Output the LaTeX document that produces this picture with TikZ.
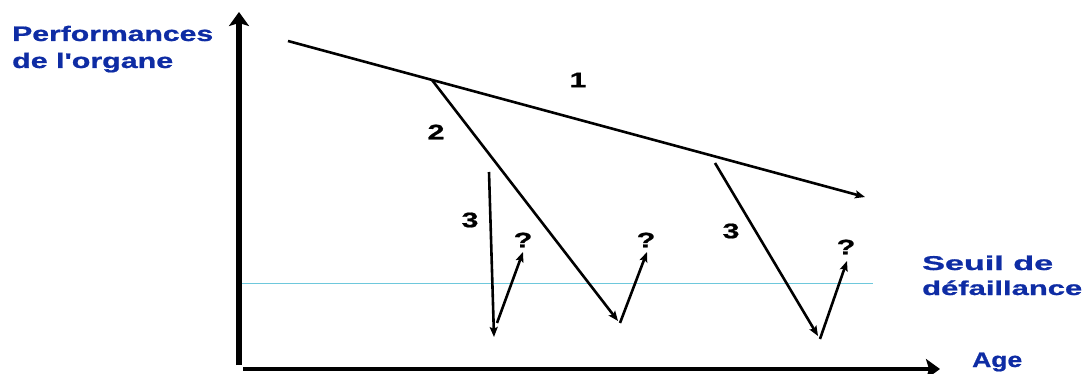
\documentclass[tikz,border=0pt]{standalone}
\usepackage{graphicx}
\usepackage{fontspec}
\setmainfont{Liberation Sans}[Ligatures=TeXOff]
\newfontfamily\lblfont{Liberation Sans}[Ligatures=TeXOff,BoldFeatures={FakeBold=0.8}]
\usetikzlibrary{arrows.meta}
\definecolor{lblblue}{RGB}{14,44,164}
\definecolor{seuilblue}{RGB}{110,200,220}
\newlength\fitwlen
\newcommand\fitw[2]{\settowidth\fitwlen{#2}\pgfmathsetmacro\fitwr{#1/\fitwlen}\scalebox{\fitwr}[1]{#2}}
\begin{document}
\begin{tikzpicture}[x=1pt,y=-1pt,
  lbl/.style={inner sep=0pt,anchor=base west,text=lblblue,font=\lblfont\fontsize{21}{22}\selectfont\bfseries},
  num/.style={inner sep=0pt,font=\lblfont\fontsize{21}{22}\selectfont\bfseries,xscale=1.45},
  curve/.style={line width=2.6pt,-{Stealth[length=10pt,width=8pt,inset=2pt]}},
  axis/.style={line width=5.5pt,-{Stealth[length=14pt,width=20pt,inset=3pt]}}]
\useasboundingbox (0,0) rectangle (1087,374);
% axes
\coordinate (yb) at (239,365);
\coordinate (yt) at (239,12);
\coordinate (xb) at (243,369);
\coordinate (xt) at (940,369);
\draw[axis] (yb) -- (yt);
\draw[axis,line width=4.5pt] (xb) -- (xt);
% threshold
\coordinate (s0) at (242,283.5);
\coordinate (s1) at (873,283.5);
\draw[seuilblue,line width=1.4pt] (s0) -- (s1);
% curve 1
\coordinate (p0) at (288,41);
\coordinate (p1) at (432,80);
\coordinate (p2) at (865,197);
\draw[curve] (p0) -- (p2);
% curve 2
\coordinate (q1) at (618,321);
\coordinate (q2) at (620,323);
\coordinate (q3) at (647,252);
\draw[curve] (p1) -- (q1);
\draw[curve] (q2) -- (q3);
% curve 3 left
\coordinate (r0) at (489,172);
\coordinate (r1) at (494,337);
\coordinate (r2) at (497,323);
\coordinate (r3) at (523,252);
\draw[curve] (r0) -- (r1);
\draw[curve] (r2) -- (r3);
% curve 3 right
\coordinate (t0) at (715,163);
\coordinate (t1) at (818,336);
\coordinate (t2) at (820,339);
\coordinate (t3) at (847,261);
\draw[curve] (t0) -- (t1);
\draw[curve] (t2) -- (t3);
% numbers
\node[num] (n1) at (578,80) {1};
\node[num] (n2) at (436,132) {2};
\node[num] (n3a) at (470,220) {3};
\node[num] (n3b) at (731,231) {3};
\node[num] (qa) at (523,240) {?};
\node[num] (qb) at (646,240) {?};
\node[num] (qc) at (846,247) {?};
% labels
\node[lbl] (perf1) at (12,41) {\fitw{201pt}{Performances}};
\node[lbl] (perf2) at (12,68) {\fitw{161pt}{de l'organe}};
\node[lbl,font=\lblfont\fontsize{20}{22}\selectfont\bfseries] (seuil1) at (922,270) {\fitw{131pt}{Seuil de}};
\node[lbl,font=\lblfont\fontsize{20}{22}\selectfont\bfseries] (seuil2) at (922,295) {\fitw{160pt}{défaillance}};
\node[lbl] (age) at (972,367) {\fitw{50pt}{Age}};
\end{tikzpicture}
\end{document}
